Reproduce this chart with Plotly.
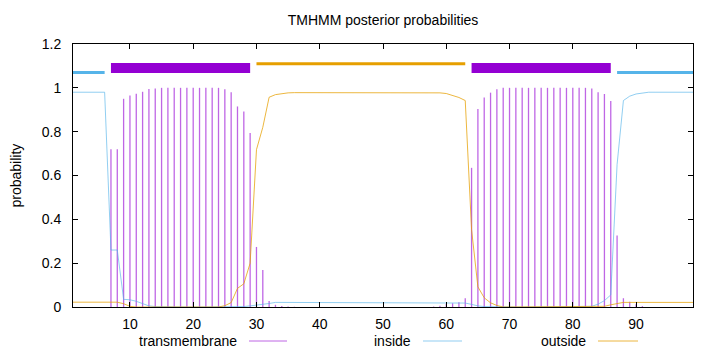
import plotly.graph_objects as go

# ---------------- data ----------------
residues = list(range(1, 100))

transmembrane = [
    0, 0, 0, 0, 0, 0, 0.72, 0.72, 0.95, 0.965,
    0.973, 0.982, 0.995, 0.997, 1.0, 1.0, 1.0, 1.0, 1.0, 1.0,
    1.0, 1.0, 1.0, 1.0, 0.994, 0.98, 0.915, 0.892, 0.794, 0.274,
    0.169, 0.027, 0.01, 0.004, 0.002, 0.001, 0, 0, 0, 0,
    0, 0, 0, 0, 0, 0, 0, 0, 0, 0,
    0, 0, 0, 0, 0, 0, 0, 0.002, 0.006, 0.014,
    0.017, 0.022, 0.04, 0.635, 0.903, 0.956, 0.978, 0.993, 1.0, 1.0,
    1.0, 1.0, 1.0, 1.0, 1.0, 1.0, 1.0, 1.0, 1.0, 1.0,
    1.0, 1.0, 0.997, 0.98, 0.972, 0.94, 0.326, 0.04, 0.024, 0.012,
    0.004, 0, 0, 0, 0, 0, 0, 0, 0,
]

inside = [
    0.98, 0.98, 0.98, 0.98, 0.98, 0.98, 0.26, 0.26, 0.035, 0.033,
    0.026, 0.014, 0.005, 0.002, 0.001, 0, 0, 0, 0, 0,
    0, 0, 0, 0, 0, 0, 0.001, 0.002, 0.005, 0.008,
    0.011, 0.016, 0.021, 0.021, 0.021, 0.021, 0.021, 0.021, 0.021, 0.021,
    0.021, 0.021, 0.021, 0.021, 0.021, 0.021, 0.021, 0.021, 0.021, 0.021,
    0.021, 0.021, 0.021, 0.021, 0.021, 0.021, 0.021, 0.021, 0.021, 0.021,
    0.02, 0.02, 0.018, 0.012, 0.005, 0.002, 0.001, 0, 0, 0,
    0, 0, 0, 0, 0, 0, 0, 0, 0, 0,
    0, 0, 0.003, 0.013, 0.029, 0.055, 0.65, 0.942, 0.962, 0.972,
    0.977, 0.98, 0.98, 0.98, 0.98, 0.98, 0.98, 0.98, 0.98,
]

outside = [
    0.022, 0.022, 0.022, 0.022, 0.022, 0.022, 0.022, 0.022, 0.015, 0.003,
    0, 0, 0, 0, 0, 0, 0, 0, 0, 0,
    0, 0, 0, 0, 0.006, 0.02, 0.085, 0.106, 0.2, 0.718,
    0.82, 0.957, 0.969, 0.974, 0.977, 0.978, 0.978, 0.978, 0.978, 0.978,
    0.978, 0.978, 0.978, 0.978, 0.978, 0.978, 0.978, 0.978, 0.978, 0.978,
    0.978, 0.978, 0.978, 0.978, 0.978, 0.978, 0.978, 0.978, 0.977, 0.974,
    0.966, 0.956, 0.942, 0.353, 0.092, 0.042, 0.019, 0.007, 0, 0,
    0, 0, 0, 0, 0, 0, 0, 0, 0, 0,
    0, 0, 0, 0, 0.003, 0.01, 0.016, 0.021, 0.021, 0.021,
    0.021, 0.021, 0.021, 0.021, 0.021, 0.021, 0.021, 0.021, 0.021,
]

# predicted topology segments
seg_type = ["inside", "transmembrane", "outside", "transmembrane", "inside"]
seg_start = [1, 7, 30, 64, 87]
seg_end = [6, 29, 63, 86, 99]

x_ticks = [10, 20, 30, 40, 50, 60, 70, 80, 90]
y_ticks = [0, 0.2, 0.4, 0.6, 0.8, 1, 1.2]
y_tick_text = ["0", "0.2", "0.4", "0.6", "0.8", "1", "1.2"]

title_text = "TMHMM posterior probabilities"
y_label = "probability"
legend_names = ["transmembrane", "inside", "outside"]

# ---------------- styles ----------------
FONT = "Liberation Sans, Arial, sans-serif"
W, H = 720, 352
ML, MR, MT, MB = 73, 27, 44, 45

line_color = {
    "transmembrane": "rgba(148,0,211,0.6)",
    "inside": "rgba(86,180,233,0.65)",
    "outside": "rgba(230,159,0,0.75)",
}
bar_color = {"transmembrane": "#9400D3", "inside": "#56B4E9", "outside": "#E69F00"}
bar_level = {"transmembrane": 1.09, "inside": 1.07, "outside": 1.11}
bar_width = {"transmembrane": 10, "inside": 3, "outside": 3}

fig = go.Figure()

# impulses for transmembrane
ix, iy = [], []
for r, v in zip(residues, transmembrane):
    ix += [r, r, None]
    iy += [0, v, None]
fig.add_trace(go.Scatter(x=ix, y=iy, mode="lines",
                         line=dict(color=line_color["transmembrane"], width=1.3),
                         name="transmembrane", showlegend=False, hoverinfo="skip"))

fig.add_trace(go.Scatter(x=residues, y=inside, mode="lines",
                         line=dict(color=line_color["inside"], width=1),
                         name="inside", showlegend=False))
fig.add_trace(go.Scatter(x=residues, y=outside, mode="lines",
                         line=dict(color=line_color["outside"], width=1),
                         name="outside", showlegend=False))

# topology bars
for t, s, e in zip(seg_type, seg_start, seg_end):
    fig.add_trace(go.Scatter(x=[s, e], y=[bar_level[t], bar_level[t]], mode="lines",
                             line=dict(color=bar_color[t], width=bar_width[t]),
                             showlegend=False, hoverinfo="skip"))

# ---------------- custom gnuplot-style key ----------------
pw = W - ML - MR
ph = H - MT - MB


def px_to_paper_x(px):
    return (px - ML) / pw


def px_to_paper_y(py):
    return (H - MB - py) / ph


key_text_end = [239, 413, 588]
key_line = [(249, 287), (423, 462), (598, 638)]
key_y = 341
annotations = []
shapes = []
for name, te, (l0, l1) in zip(legend_names, key_text_end, key_line):
    annotations.append(dict(text=name, x=px_to_paper_x(te), y=px_to_paper_y(key_y),
                            xref="paper", yref="paper", xanchor="right", yanchor="middle",
                            showarrow=False, font=dict(family=FONT, size=14, color="black")))
    shapes.append(dict(type="line", xref="paper", yref="paper",
                       x0=px_to_paper_x(l0), x1=px_to_paper_x(l1),
                       y0=px_to_paper_y(key_y), y1=px_to_paper_y(key_y),
                       line=dict(color=line_color[name], width=1)))

annotations.append(dict(text=y_label, x=px_to_paper_x(15), y=0.5, xref="paper", yref="paper",
                        xanchor="center", yanchor="middle", textangle=-90, showarrow=False,
                        font=dict(family=FONT, size=14, color="black")))

fig.update_layout(
    width=W, height=H,
    margin=dict(l=ML, r=MR, t=MT, b=MB),
    paper_bgcolor="white", plot_bgcolor="white",
    font=dict(family=FONT, size=14, color="black"),
    title=dict(text=title_text, x=(ML + pw / 2) / W, xanchor="center",
               y=1 - 20 / H, yanchor="middle", yref="container",
               font=dict(family=FONT, size=14, color="black")),
    showlegend=False,
    annotations=annotations,
    shapes=shapes,
)
fig.update_xaxes(range=[1, 99], tickvals=x_ticks, ticks="inside", ticklen=5,
                 tickcolor="black", showline=True, linecolor="black", linewidth=1,
                 mirror="ticks", showgrid=False, zeroline=False, ticklabelstandoff=4)
fig.update_yaxes(range=[0, 1.2], tickvals=y_ticks, ticktext=y_tick_text, ticks="inside",
                 ticklen=5, tickcolor="black", showline=True, linecolor="black", linewidth=1,
                 mirror="ticks", showgrid=False, zeroline=False, ticklabelstandoff=8)

fig.write_html("out.html")
